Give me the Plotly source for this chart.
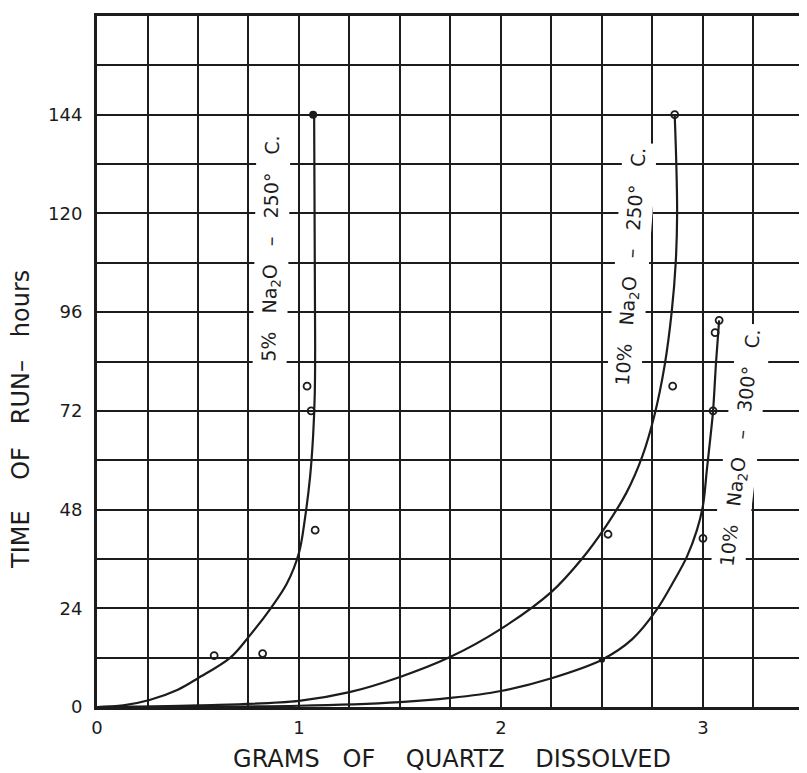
import plotly.graph_objects as go

# ---- data ----
# 5% Na2O - 250 C
c5_x = [0.0, 0.13, 0.26, 0.4, 0.5, 0.66, 0.75, 0.86, 0.94, 1.0, 1.03, 1.055, 1.07, 1.078, 1.08, 1.078, 1.075]
c5_y = [0.0, 0.4, 1.7, 4.2, 7.0, 12.0, 17.0, 24.0, 30.0, 37.5, 46.0, 56.0, 66.0, 76.0, 88.0, 110.0, 144.0]
p5_x = [0.58, 0.82, 1.08, 1.06, 1.04]
p5_y = [12.5, 13.0, 43.0, 72.0, 78.0]
p5_end_x = [1.07]
p5_end_y = [144.0]

# 10% Na2O - 250 C
c10a_x = [0.0, 0.5, 1.0, 1.25, 1.5, 1.75, 2.0, 2.25, 2.4, 2.52, 2.62, 2.7, 2.76, 2.81, 2.845, 2.865, 2.872, 2.868, 2.86]
c10a_y = [0.0, 0.4, 1.5, 3.6, 7.3, 12.2, 19.0, 28.0, 36.0, 44.0, 52.0, 61.0, 71.0, 83.0, 96.0, 108.0, 120.0, 132.0, 144.0]
p10a_x = [2.53, 2.85, 2.86]
p10a_y = [42.0, 78.0, 144.0]

# 10% Na2O - 300 C
c10b_x = [0.0, 1.0, 1.5, 1.75, 2.0, 2.25, 2.5, 2.65, 2.77, 2.86, 2.92, 2.97, 3.0, 3.02, 3.04, 3.05, 3.065, 3.08]
c10b_y = [0.0, 0.3, 1.2, 2.2, 3.9, 7.0, 11.5, 16.5, 23.6, 31.0, 36.5, 43.0, 49.0, 58.0, 67.0, 72.0, 84.0, 94.0]
p10b_x = [3.0, 3.05, 3.06, 3.08]
p10b_y = [41.0, 72.0, 91.0, 94.0]
p10b_dot_x = [2.5]
p10b_dot_y = [11.5]

# axis ticks
x_tickvals = [0, 1, 2, 3]
x_ticktext = ["0", "1", "2", "3"]
y_tickvals = [0, 24, 48, 72, 96, 120, 144]
y_ticktext = ["0", "24", "48", "72", "96", "120", "144"]

NB = "\u00a0"
labels = ["5%" + NB * 3 + "Na<sub>2</sub>O" + NB * 3 + "–" + NB * 3 + "250°" + NB * 3 + "C.",
          "10%" + NB * 3 + "Na<sub>2</sub>O" + NB * 3 + "–" + NB * 3 + "250°" + NB * 3 + "C.",
          "10%" + NB * 3 + "Na<sub>2</sub>O" + NB * 3 + "–" + NB * 3 + "300°" + NB * 3 + "C."]
label_x = [0.866, 2.649, 3.188]
label_y = [111.4, 107.0, 63.2]
label_angle = [-89, -86, -83.5]

x_title = "GRAMS" + NB * 3 + "OF" + NB * 4 + "QUARTZ" + NB * 4 + "DISSOLVED"
y_title = "TIME" + NB * 4 + "OF" + NB * 3 + "RUN–" + NB * 3 + "hours"

INK = "#1c1c1c"
FONT = "DejaVu Sans"

fig = go.Figure()

for cx, cy in [(c5_x, c5_y), (c10a_x, c10a_y), (c10b_x, c10b_y)]:
    fig.add_trace(go.Scatter(x=cx, y=cy, mode="lines",
                             line=dict(color=INK, width=2.2, shape="spline", smoothing=1.0),
                             hoverinfo="skip", showlegend=False))

for px, py in [(p5_x, p5_y), (p10a_x, p10a_y), (p10b_x, p10b_y)]:
    fig.add_trace(go.Scatter(x=px, y=py, mode="markers",
                             marker=dict(symbol="circle-open", size=7, color=INK,
                                         line=dict(width=1.8, color=INK)),
                             showlegend=False))

fig.add_trace(go.Scatter(x=p5_end_x, y=p5_end_y, mode="markers",
                         marker=dict(symbol="circle", size=8, color=INK),
                         showlegend=False))
fig.add_trace(go.Scatter(x=p10b_dot_x, y=p10b_dot_y, mode="markers",
                         marker=dict(symbol="circle", size=6, color=INK),
                         showlegend=False))

for t, ax_, ay_, ang in zip(labels, label_x, label_y, label_angle):
    fig.add_annotation(x=ax_, y=ay_, xref="x", yref="y", text=t, showarrow=False,
                       textangle=ang, bgcolor="white", borderpad=4,
                       font=dict(family=FONT, size=19, color=INK))

# y-axis title (placed lower than centre, as in the reference)
fig.add_annotation(x=-0.107, y=69.8, xref="paper", yref="y", text=y_title, showarrow=False,
                   textangle=-90, xanchor="center", yanchor="middle",
                   font=dict(family=FONT, size=24, color=INK))

grid = dict(showgrid=True, gridcolor=INK, gridwidth=2)
fig.update_xaxes(range=[0, 3.515], tickmode="array", tickvals=x_tickvals, ticktext=x_ticktext,
                 minor=dict(tickmode="linear", tick0=0, dtick=0.25, ticks="", **grid),
                 zeroline=False, showline=True, linecolor=INK, linewidth=3, mirror=True,
                 ticks="", ticklabelstandoff=2, **grid,
                 tickfont=dict(family=FONT, size=18, color=INK),
                 title=dict(text=x_title, font=dict(family=FONT, size=24, color=INK), standoff=18))
fig.update_yaxes(range=[0, 168], tickmode="array", tickvals=y_tickvals, ticktext=y_ticktext,
                 minor=dict(tickmode="linear", tick0=0, dtick=12, ticks="", **grid),
                 zeroline=False, showline=True, linecolor=INK, linewidth=3, mirror=False,
                 ticks="", ticklabelstandoff=8, **grid,
                 tickfont=dict(family=FONT, size=18, color=INK))

# page body has an 8px margin: size and offsets compensate so the plot sits as in the reference
fig.update_layout(width=799, height=765, margin=dict(l=89, r=0, t=8, b=66),
                  paper_bgcolor="white", plot_bgcolor="white", showlegend=False)

fig.write_html("out.html")
